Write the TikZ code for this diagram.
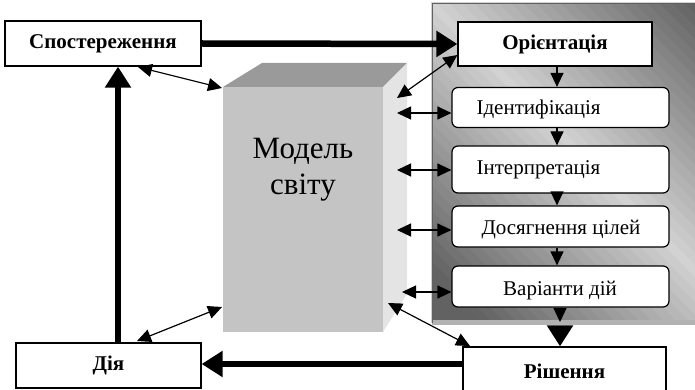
\documentclass[tikz,border=0pt]{standalone}
\usepackage{fontspec}
\setmainfont{Liberation Serif}
\usetikzlibrary{arrows.meta}
\definecolor{front}{RGB}{196,196,196}
\definecolor{topf}{RGB}{154,154,154}
\definecolor{side}{RGB}{228,228,228}
\definecolor{pdark}{RGB}{98,98,98}
\definecolor{plight}{RGB}{210,210,210}
\begin{document}
\begin{tikzpicture}[x=1pt,y=-1pt,
  lbl/.style={font=\fontsize{21}{24}\selectfont},
  sqbox/.style={draw=black,line width=1.2pt,fill=white,font=\fontsize{21}{24}\selectfont\bfseries,inner sep=0pt},
  rbox/.style={draw=black,line width=1.2pt,fill=white,rounded corners=6pt,minimum width=217pt,inner sep=0pt},
  thick arrow/.style={line width=6.5pt,-{Triangle[length=21pt,width=25pt]}},
  thin arrow/.style={line width=1.2pt,-{Triangle[length=14pt,width=13pt]}},
  dbl arrow/.style={line width=1.2pt,{Triangle[length=14pt,width=13pt]}-{Triangle[length=14pt,width=13pt]}}]
\useasboundingbox (0,0) rectangle (695,390);
\clip (0,0) rectangle (695,390);
% panel with diagonal gradient
\begin{scope}[shift={(432,3)},x=263pt,y=-320pt]
\clip (0,0) rectangle (1,1);
\foreach \i in {0,...,49}{
  \pgfmathsetmacro\ua{-1.25+\i*0.047}
  \pgfmathsetmacro\ub{\ua+0.052}
  \pgfmathsetmacro\pc{min(abs(\ua+0.0235),1)*100}
  \fill[pdark!\pc!plight] (\ua-1.2,-1) -- (\ua+2.4,2) -- (\ub+2.4,2) -- (\ub-1.2,-1) -- cycle;
}
\end{scope}
\fill[gray!60] (432,320) rectangle (695,325);
\draw[gray!75!black,line width=0.8pt] (432,323) -- (432,3) -- (695,3);
\draw[gray!35,line width=0.8pt] (431,323) -- (431,2) -- (695,2);
% model of the world (3D box)
\fill[topf] (223,87) -- (262,63) -- (407,63) -- (383,87) -- cycle;
\fill[side] (383,87) -- (407,63) -- (407,294) -- (383,332) -- cycle;
\fill[front] (223,87) rectangle (383,332);
\node[font=\fontsize{31}{36}\selectfont,align=center] (m) at (303,170) {Модель\\світу};
\coordinate (m1) at (222,88);
\coordinate (m2) at (397,98);
\coordinate (m3) at (397,113);
\coordinate (m4) at (397,170);
\coordinate (m5) at (397,230);
\coordinate (m6) at (402,292);
\coordinate (m7) at (388,303);
\coordinate (m8) at (222,307);
% boxes
\node[sqbox,minimum width=196pt,minimum height=45pt] (sp) at (103,43.5) {Спостереження};
\node[sqbox,minimum width=194pt,minimum height=44pt] (or) at (555,44) {Орієнтація};
\node[rbox,minimum height=40pt] (id) at (560.5,107.5) {};
\node[lbl,anchor=west] at (473,109) {Ідентифікація};
\node[rbox,minimum height=47pt] (in) at (560.5,169.5) {};
\node[lbl,anchor=west] at (473,170) {Інтерпретація};
\node[rbox,minimum height=41pt] (dc) at (560.5,226.5) {};
\node[lbl] at (561,230) {Досягнення цілей};
\node[rbox,minimum height=41pt] (va) at (560.5,286.5) {};
\node[lbl] at (560,291) {Варіанти дій};
\node[sqbox,minimum width=203pt,minimum height=48pt] (rs) at (564.5,371) {Рішення};
\node[sqbox,minimum width=185pt,minimum height=45pt] (dia) at (108.5,365.5) {Дія};
% thick arrows
\coordinate (vx) at (118,0);
\coordinate (cx) at (557,0);
\coordinate (px) at (560,322);
\draw[thick arrow] (sp.east) -- (or.west);
\draw[thick arrow] (rs.west |- 0,364) -- (dia.east |- 0,364);
\draw[thick arrow] (dia.north -| vx) -- (sp.south -| vx);
% inner chain
\draw[thin arrow] (or.south -| cx) -- (id.north -| cx);
\draw[thin arrow] (id.south -| cx) -- (in.north -| cx);
\draw[thin arrow] (in.south -| cx) -- (dc.north -| cx);
\draw[thin arrow] (dc.south -| cx) -- (va.north -| cx);
\draw[thin arrow] (va.south -| px) -- (px);
\draw[thick arrow] ([yshift=-4]px) -- (rs.north -| px);
% double arrows
\draw[dbl arrow] (138,67) -- (m1);
\draw[dbl arrow] (or.west |- 0,55) -- (m2);
\draw[dbl arrow] (id.west |- m3) -- (m3);
\draw[dbl arrow] (in.west |- m4) -- (m4);
\draw[dbl arrow] (dc.west |- m5) -- (m5);
\draw[dbl arrow] (va.west |- m6) -- (m6);
\draw[dbl arrow] (470,346) -- (m7);
\draw[dbl arrow] (137,341) -- (m8);
\end{tikzpicture}
\end{document}
